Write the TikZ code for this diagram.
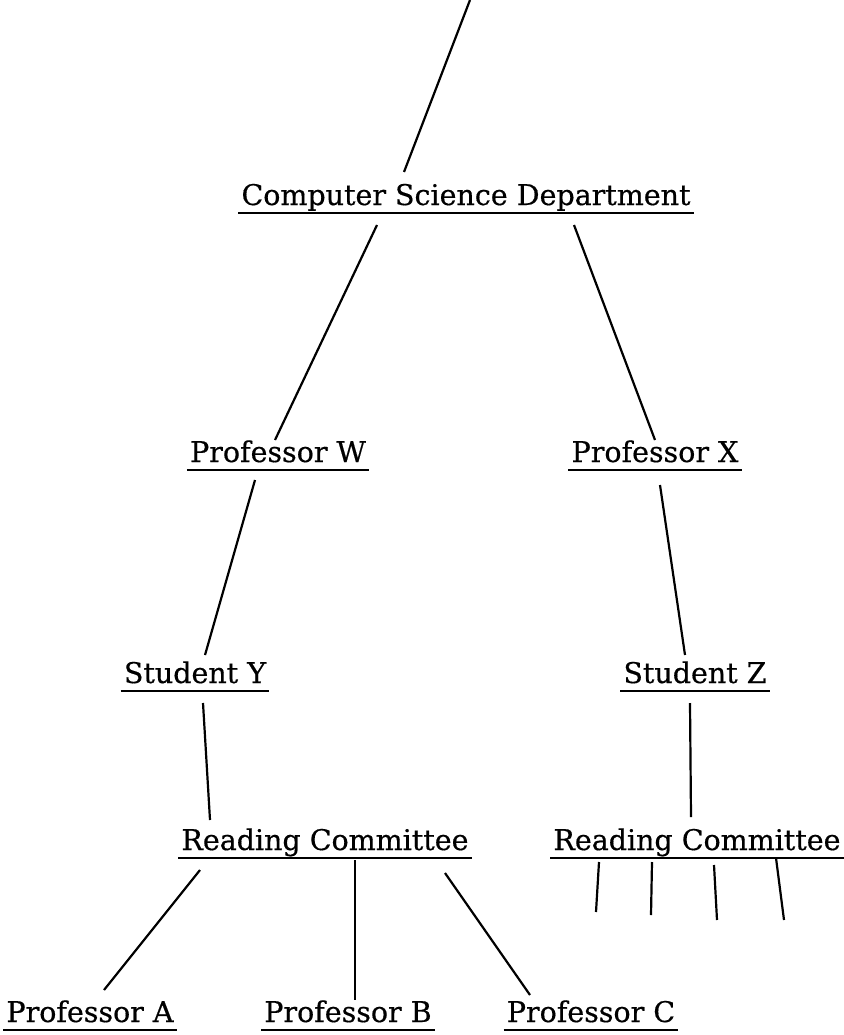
\documentclass[tikz,border=0pt]{standalone}
\usepackage{fontspec}
\setmainfont[FakeBold=0.5]{DejaVu Serif}
\usetikzlibrary{calc}
\begin{document}
\begin{tikzpicture}[x=1pt,y=-1pt,
  lbl/.style={inner sep=0pt,anchor=base,font=\fontsize{28.5}{34}\selectfont},
  ul/.style={line width=2.4pt},
  conn/.style={line width=2.2pt}]
\useasboundingbox[fill=white] (0,0) rectangle (843,1035);
% nodes
\node[lbl] (csd) at (466,205) {Computer Science Department};
\node[lbl] (pw) at (278,462) {Professor W};
\node[lbl] (px) at (655,462) {Professor X};
\node[lbl] (sy) at (195,683) {Student Y};
\node[lbl] (sz) at (695,683) {Student Z};
\node[lbl] (rc1) at (325,850) {Reading Committee};
\node[lbl] (rc2) at (697,850) {Reading Committee};
\node[lbl] (pa) at (90,1022) {Professor A};
\node[lbl] (pb) at (348,1022) {Professor B};
\node[lbl] (pc) at (591,1022) {Professor C};
% underlines
\foreach \n in {csd,pw,px,sy,sz,rc1,rc2,pa,pb,pc}{
  \draw[ul] ($(\n.base west)+(-3,8)$) -- ($(\n.base east)+(3,8)$);
}
% connectors
\coordinate (top) at (470,0);
\draw[conn] (top) -- ($(csd.base)+(-62,-33)$);
\draw[conn] ($(csd.base)+(-89,20)$) -- ($(pw.base)+(-3,-22)$);
\draw[conn] ($(csd.base)+(108,20)$) -- ($(px.base)+(0,-22)$);
\draw[conn] ($(pw.base)+(-23,18)$) -- ($(sy.base)+(10,-28)$);
\draw[conn] ($(px.base)+(5,23)$) -- ($(sz.base)+(-10,-28)$);
\draw[conn] ($(sy.base)+(8,20)$) -- ($(rc1.base)+(-115,-30)$);
\draw[conn] ($(sz.base)+(-5,20)$) -- ($(rc2.base)+(-6,-33)$);
\draw[conn] ($(rc1.base)+(-125,20)$) -- ($(pa.base)+(14,-32)$);
\draw[conn] ($(rc1.base)+(30,10)$) -- ($(pb.base)+(7,-22)$);
\draw[conn] ($(rc1.base)+(120,23)$) -- ($(pc.base)+(-61,-27)$);
% right committee members (open lines)
\coordinate (m1) at ($(rc2.base)+(-101,62)$);
\coordinate (m2) at ($(rc2.base)+(-46,65)$);
\coordinate (m3) at ($(rc2.base)+(20,70)$);
\coordinate (m4) at ($(rc2.base)+(87,70)$);
\draw[conn] ($(rc2.base)+(-98,12)$) -- (m1);
\draw[conn] ($(rc2.base)+(-45,12)$) -- (m2);
\draw[conn] ($(rc2.base)+(17,15)$) -- (m3);
\draw[conn] ($(rc2.base)+(79,8)$) -- (m4);
\end{tikzpicture}
\end{document}
